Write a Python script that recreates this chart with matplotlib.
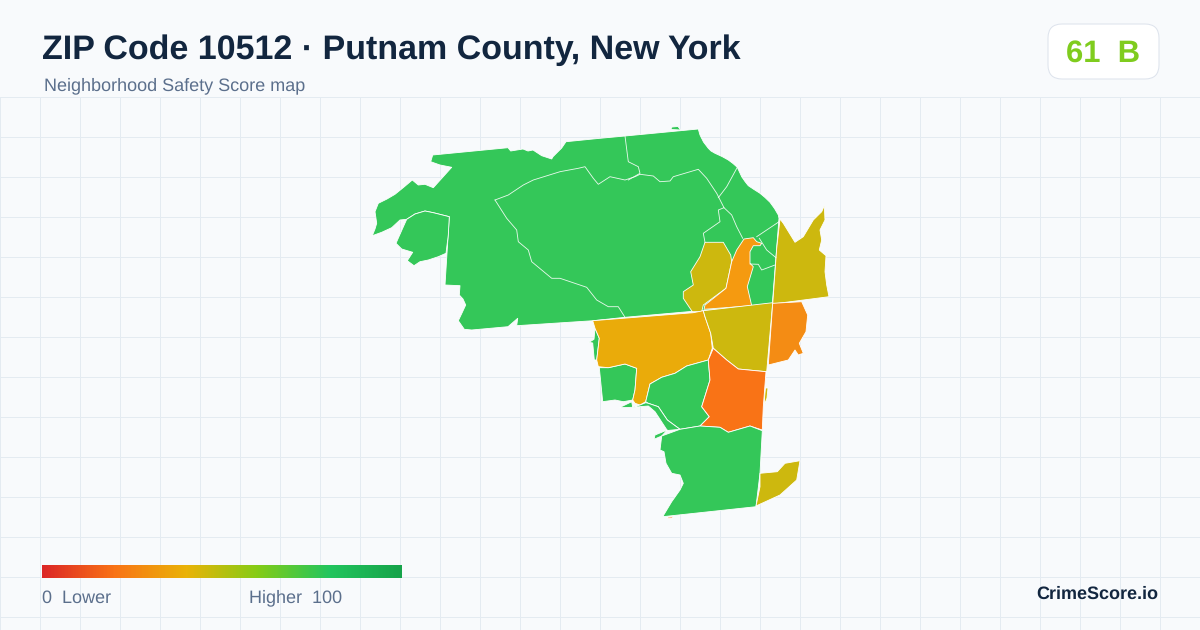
#!/usr/bin/env python3
# -*- coding: utf-8 -*-
"""ZIP 10512 safety score map, redrawn with matplotlib."""

import matplotlib
matplotlib.use("Agg")
import matplotlib.pyplot as plt
import numpy as np
from matplotlib.colors import LinearSegmentedColormap
from matplotlib.patches import FancyBboxPatch, Polygon

plt.rcParams["font.family"] = ["Liberation Sans", "DejaVu Sans"]
plt.rcParams["text.hinting"] = "none"
plt.rcParams["text.hinting_factor"] = 1

TITLE = "ZIP Code 10512 · Putnam County, New York"
SUBTITLE = "Neighborhood Safety Score map"
SCORE_TEXT = "61  B"
BRAND = "CrimeScore.io"
LEGEND_LOW = "0  Lower"
LEGEND_HIGH = "Higher  100"

GREEN = "#34c759"
GOLD = "#eaab0a"
OLIVE = "#cdb80e"
ORANGE = "#f97316"
ORANGE_MID = "#f59a10"
ORANGE_EAST = "#f48c14"

LEGEND_COLORS = ["#dc2626", "#f97316", "#eab308", "#84cc16", "#22c55e", "#16a34a"]

NORTH_BLOCK = [
    (430.7, 161.7), (432.7, 155), (508, 147.7), (510.7, 151), (523, 149), (528, 151),
    (533, 150), (541.7, 155.7), (551.7, 159), (553, 156.7), (561.7, 148), (566, 141.7),
    (600, 138.3), (625, 136), (698.3, 129), (700, 135), (703.5, 142), (708.3, 148.3),
    (711, 151), (715, 153.3), (722, 156.5), (728.3, 160), (733, 163.5), (737.3, 167.3),
    (739.5, 172), (741.7, 176.7), (745, 181.5), (748.3, 185.7), (754, 189.5), (760, 193.3),
    (765, 197.5), (770, 202.3), (774.5, 208.5), (778.3, 215),
    (779, 218.3), (772.3, 304.3), (625, 317.3), (593.3, 320.7), (516.7, 325.7),
    (517.7, 318.3), (508, 326.7), (471.7, 330), (464.3, 329.3), (458.3, 320.7), (462, 313),
    (465.7, 305), (463, 299), (459.3, 295), (460, 285.7), (445, 285), (449.3, 216.7),
    (433.3, 212.7), (425, 211), (415, 214), (406.7, 219.3), (400, 220), (391.7, 227.7),
    (381.7, 232.3), (372.3, 235.7), (375, 229), (376.7, 223.3), (375, 211.7), (378.3, 203.3),
    (387, 199), (395, 194.3), (404, 187), (412.3, 180), (418.3, 185),
    (425, 184.3), (433.3, 187.7), (451.7, 167.3), (440, 165),
]
WEST_POCKET = [
    (449.3, 216.7), (448.3, 235), (446, 253.3), (438.3, 256.7), (428.3, 260), (420, 261.7),
    (414, 265.7), (407.3, 260.7), (412.7, 252.3), (401.7, 249), (396, 243.3), (401, 232),
    (406.7, 219.3), (415, 214), (425, 211), (433.3, 212.7),
]
NORTH_SPECK = [(670.7, 129.5), (672, 127), (678, 126.5), (680.7, 130)]
SOUTH_SPECK = [(667, 517.2), (673, 516.6), (672.5, 518), (668, 518.2)]
GOLD_NORTH = [
    (705, 242.3), (723.3, 242.3), (730.7, 255), (731.7, 261.7), (726, 288.3), (703.3, 305),
    (701.7, 311.7), (692.3, 311.7), (683.3, 298.3), (683.3, 291.7), (693.3, 285),
    (690.7, 271.7), (700, 256.7),
]
ORANGE_STRIP = [
    (744, 239), (753.3, 237.7), (756.7, 241.7), (761.7, 243.3), (760, 245.7), (753.3, 245.7),
    (750, 251.7), (750, 263.3), (753.3, 266.7), (747.3, 286.7), (751.7, 305.7), (704, 309.3),
    (705, 305), (726, 288.3), (731.7, 261.7), (736.7, 250),
]
EAST_OLIVE = [
    (780, 219), (783.3, 223.3), (795, 242.3), (803.3, 236.7), (813.3, 220), (821.7, 211.7),
    (824.3, 205.7), (825, 220), (820, 230), (821.7, 240), (819.3, 250), (826, 255.7),
    (825, 271.7), (826.7, 285), (829, 296.7), (772.7, 304), (776.7, 248.3),
]
GOLD_SOUTH = [
    (592.7, 320.7), (693.3, 312.7), (703.3, 310.7), (705, 316.7), (710.7, 333.3), (712.3, 348.3),
    (708.3, 360), (686.7, 366), (675, 373.3), (661.7, 377.3), (650, 384), (645.7, 401.7),
    (640, 405), (635, 403.3), (632.7, 400), (635, 390), (636.7, 368.3), (625, 364),
    (608.3, 367.7), (598.3, 366.7), (596.7, 360), (599.3, 338.3), (595, 328.3),
]
WEST_STRIP = [
    (595, 328), (599.3, 338.3), (596.7, 360), (594.3, 360), (592.7, 343), (589, 342.3), (594, 339.3),
]
SW_BOX = [
    (599.3, 367.7), (608.3, 367.7), (625, 364), (636.7, 368.3), (635, 390), (632.7, 400),
    (623.3, 401.7), (615, 400), (602.7, 401.7),
]
SW_SLIVER = [(619.3, 407.7), (631.7, 401.7), (632.7, 407.3)]
MID_GREEN = [
    (708.3, 360), (710, 380), (701.7, 406.7), (709.3, 416.7), (700, 426), (680, 429.3),
    (667.3, 420), (658.3, 406.7), (648.3, 403.3), (645.7, 401.7), (650, 384), (661.7, 377.3),
    (675, 373.3), (686.7, 366),
]
RIVER_STRIP = [
    (632.7, 407.3), (640, 405), (645.7, 402.7), (648.3, 403.3), (658.3, 406.7), (667.3, 420),
    (680, 429.3), (667.3, 430.5), (655, 411.7), (648.3, 406),
]
RIVER_TAIL = [(654, 439.3), (655, 435), (667.3, 430), (661.7, 436)]
DARK_ORANGE = [
    (713.3, 348.3), (726.7, 360), (738.3, 369), (766, 371.7), (763.3, 406.7), (762.3, 430),
    (750, 426), (728.3, 432.3), (720, 427.3), (700, 426), (709.3, 416.7), (701.7, 406.7),
    (710, 380), (708.3, 360),
]
EAST_SLIVER = [(765.5, 388), (768, 388), (767, 398), (765, 404), (764.5, 398)]
MID_OLIVE = [
    (703.3, 310.7), (772.7, 302.7), (766.7, 371.7), (738.3, 369), (726.7, 360), (713.3, 348.3),
    (710.7, 333.3), (705, 316.7),
]
EAST_ORANGE = [
    (772.7, 303.3), (801.7, 301.7), (807.7, 315), (806, 331.7), (799.3, 343.3), (803.3, 353.3),
    (798.3, 355), (795, 350), (788.3, 360), (768.3, 365),
]
SOUTH_GREEN = [
    (661.7, 436), (680, 429.3), (700, 426), (720, 427.3), (728.3, 432.3), (750, 426),
    (762.3, 430.7), (760, 473.3), (756, 506.7), (662.7, 516.7), (671.7, 501.7), (680, 490),
    (683.3, 483.3), (680, 475), (671.7, 473.3), (666, 463.3), (664, 451.7), (660, 450),
]
SE_OLIVE = [
    (760, 473.3), (777.3, 471.7), (785, 463.3), (800, 460.7), (796.7, 480), (780, 495),
    (756, 506), (760, 486.7),
]

# white boundaries inside the green northern block
CENTRAL_TOP = [
    (495, 200), (508.3, 195), (523.3, 185), (533.3, 180), (560, 171.7), (578.3, 168.3),
    (585, 166.7), (593.3, 178.3), (598.3, 184.3), (610, 176.7), (625, 180), (635, 176.7),
    (640, 174.3), (653.3, 176), (660, 181.7), (670, 181), (673.3, 176.7), (698.3, 169.3),
    (706.7, 178.3), (716.7, 193.3), (724, 207.7), (718.3, 210), (720, 221.7), (703.3, 233.3),
    (705, 242.3),
]
CENTRAL_WEST = [
    (495, 200), (506.7, 218.3), (516.7, 230), (518.3, 241.7), (528.3, 250), (531.7, 261.7),
    (551.7, 278.3), (560, 278.3), (586.7, 287.3), (596.7, 300), (608.3, 306.7), (618.3, 306.7),
    (625, 317.3),
]
NORTH_SPLIT = [(625, 136), (628.3, 161.7), (638.3, 166.7), (640, 173.3), (628.3, 180)]
NE_SPLIT = [(737.3, 167.3), (726.7, 186.7), (718.3, 197.7)]
NE_DOWN = [(724, 207.7), (731.7, 215), (736.7, 226.7), (742.7, 238.3)]
POCKET_A = [(756.7, 236.7), (776.7, 223.3), (779, 221.7)]
POCKET_B = [(759.3, 238.3), (766.7, 250), (776, 257.7)]
POCKET_C = [(750, 264), (758.3, 264.3), (761.7, 270), (775, 265)]

REGIONS = [
    (NORTH_BLOCK, GREEN), (WEST_POCKET, GREEN), (NORTH_SPECK, GREEN), (SOUTH_SPECK, ORANGE),
    (GOLD_NORTH, OLIVE), (ORANGE_STRIP, ORANGE_MID), (EAST_OLIVE, OLIVE),
    (WEST_STRIP, GREEN), (SW_BOX, GREEN), (SW_SLIVER, GREEN), (GOLD_SOUTH, GOLD),
    (MID_GREEN, GREEN), (RIVER_STRIP, GREEN), (RIVER_TAIL, GREEN),
    (MID_OLIVE, OLIVE), (EAST_ORANGE, ORANGE_EAST), (DARK_ORANGE, ORANGE), (EAST_SLIVER, OLIVE),
    (SOUTH_GREEN, GREEN), (SE_OLIVE, OLIVE),
]
BORDERS = [CENTRAL_TOP, CENTRAL_WEST, NORTH_SPLIT, NE_SPLIT, NE_DOWN, POCKET_A, POCKET_B, POCKET_C]

fig = plt.figure(figsize=(12, 6.3), dpi=100, facecolor="#f8fafc")
ax = fig.add_axes([0, 0, 1, 1])
ax.set_xlim(0, 1200)
ax.set_ylim(630, 0)
ax.axis("off")

# background grid below the header
for x in range(0, 1201, 40):
    ax.plot([x, x], [97, 630], color="#e4ebf1", lw=0.72, zorder=1)
for y in range(97, 630, 40):
    ax.plot([0, 1200], [y, y], color="#e4ebf1", lw=0.72, zorder=1)

for coords, color in REGIONS:
    ax.add_patch(Polygon(coords, closed=True, facecolor=color, edgecolor="white",
                         lw=0.6, joinstyle="round", zorder=2))
for line in BORDERS:
    xs, ys = zip(*line)
    ax.plot(xs, ys, color="white", lw=0.6, alpha=0.9, zorder=3)

# header
ax.text(42, 58.5, TITLE, fontsize=24.5, fontweight="bold", color="#12263f", zorder=5)
ax.text(44, 90, SUBTITLE, fontsize=12.96, color="#5b6f8c", zorder=5)

# score badge
ax.add_patch(FancyBboxPatch((1062, 38), 83, 27, boxstyle="round,pad=14,rounding_size=14",
                            facecolor="white", edgecolor="#dde3ec", lw=0.72, zorder=4))
ax.text(1103, 62, SCORE_TEXT, fontsize=22.5, fontweight="bold", color="#7fcc1e",
        ha="center", zorder=5)

# colour legend
cmap = LinearSegmentedColormap.from_list("score", LEGEND_COLORS)
ax.imshow(np.linspace(0, 1, 360).reshape(1, -1), cmap=cmap, aspect="auto",
          extent=(42, 402, 578, 565), zorder=4)
ax.set_xlim(0, 1200)
ax.set_ylim(630, 0)
ax.text(42, 602.5, LEGEND_LOW, fontsize=12.96, color="#5b6f8c", zorder=5)
ax.text(249, 602.5, LEGEND_HIGH, fontsize=12.96, color="#5b6f8c", zorder=5)

ax.text(1158, 599, BRAND, fontsize=13, fontweight="bold", color="#12263f", ha="right", zorder=5)

fig.savefig("out.png", dpi=100, facecolor=fig.get_facecolor())
plt.close(fig)
